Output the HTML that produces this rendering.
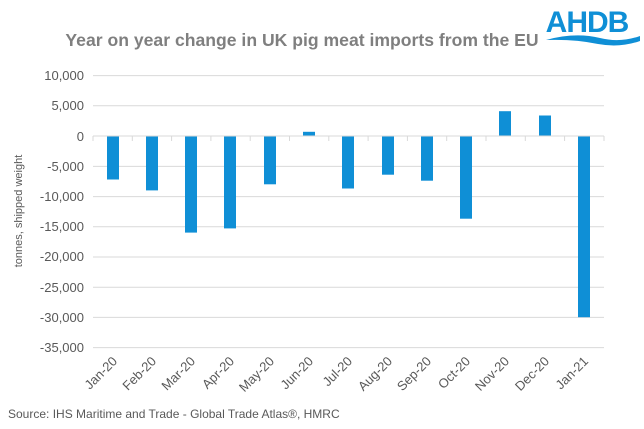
<!DOCTYPE html>
<html><head><style>
body{margin:0;background:#fff;}
svg{display:block;font-family:"Liberation Sans",Arial,sans-serif;}
</style></head><body>
<svg width="644" height="429" viewBox="0 0 644 429">
<text x="302" y="46" text-anchor="middle" font-size="17.6" font-weight="bold" fill="#7f7f7f">Year on year change in UK pig meat imports from the EU</text>
<text x="587" y="32" text-anchor="middle" font-size="30" font-weight="bold" fill="#0f8fd6" letter-spacing="-1">AHDB</text>
<path d="M546 40 Q575 32 600 38 Q620 43 640 36 L640 41 Q620 48 598 44 Q575 39 546 40Z" fill="#0f8fd6"/>
<g stroke="#d9d9d9" stroke-width="1">
<line x1="93" x2="604" y1="75.6" y2="75.6"/>
<line x1="93" x2="604" y1="105.8" y2="105.8"/>
<line x1="93" x2="604" y1="166.4" y2="166.4"/>
<line x1="93" x2="604" y1="196.6" y2="196.6"/>
<line x1="93" x2="604" y1="226.8" y2="226.8"/>
<line x1="93" x2="604" y1="257" y2="257"/>
<line x1="93" x2="604" y1="287.2" y2="287.2"/>
<line x1="93" x2="604" y1="317.4" y2="317.4"/>
<line x1="93" x2="604" y1="347.6" y2="347.6"/>
</g>
<g font-size="13" fill="#595959" text-anchor="end">
<text x="84" y="80">10,000</text><text x="84" y="110">5,000</text><text x="84" y="141">0</text>
<text x="84" y="171">-5,000</text><text x="84" y="201">-10,000</text><text x="84" y="231">-15,000</text>
<text x="84" y="261">-20,000</text><text x="84" y="292">-25,000</text><text x="84" y="322">-30,000</text><text x="84" y="352">-35,000</text>
</g>
<text transform="translate(22,211) rotate(-90)" text-anchor="middle" font-size="11" fill="#595959">tonnes, shipped weight</text>
<g fill="#0f8fd6">
<rect x="107" y="136" width="12" height="43.5"/>
<rect x="146" y="136" width="12" height="54.4"/>
<rect x="185" y="136" width="12" height="96.6"/>
<rect x="224" y="136" width="12" height="92.4"/>
<rect x="264" y="136" width="12" height="48.3"/>
<rect x="303" y="131.8" width="12" height="4.2"/>
<rect x="342" y="136" width="12" height="52.5"/>
<rect x="382" y="136" width="12" height="38.7"/>
<rect x="421" y="136" width="12" height="44.7"/>
<rect x="460" y="136" width="12" height="82.7"/>
<rect x="499" y="111.2" width="12" height="24.8"/>
<rect x="539" y="115.5" width="12" height="20.5"/>
<rect x="578" y="136" width="12" height="181.2"/>
</g>
<g stroke="#d9d9d9" stroke-width="1">
<line x1="93" x2="604" y1="136" y2="136"/>
<line x1="93" x2="93" y1="136" y2="141"/><line x1="132.3" x2="132.3" y1="136" y2="141"/><line x1="171.6" x2="171.6" y1="136" y2="141"/><line x1="210.9" x2="210.9" y1="136" y2="141"/><line x1="250.2" x2="250.2" y1="136" y2="141"/><line x1="289.5" x2="289.5" y1="136" y2="141"/><line x1="328.8" x2="328.8" y1="136" y2="141"/><line x1="368.1" x2="368.1" y1="136" y2="141"/><line x1="407.4" x2="407.4" y1="136" y2="141"/><line x1="446.7" x2="446.7" y1="136" y2="141"/><line x1="486" x2="486" y1="136" y2="141"/><line x1="525.3" x2="525.3" y1="136" y2="141"/><line x1="564.6" x2="564.6" y1="136" y2="141"/><line x1="604" x2="604" y1="136" y2="141"/>
</g>
<g font-size="13" fill="#595959" text-anchor="end">
<text transform="translate(118,362) rotate(-45)">Jan-20</text>
<text transform="translate(157,362) rotate(-45)">Feb-20</text>
<text transform="translate(196,362) rotate(-45)">Mar-20</text>
<text transform="translate(235,362) rotate(-45)">Apr-20</text>
<text transform="translate(275,362) rotate(-45)">May-20</text>
<text transform="translate(314,362) rotate(-45)">Jun-20</text>
<text transform="translate(353,362) rotate(-45)">Jul-20</text>
<text transform="translate(393,362) rotate(-45)">Aug-20</text>
<text transform="translate(432,362) rotate(-45)">Sep-20</text>
<text transform="translate(471,362) rotate(-45)">Oct-20</text>
<text transform="translate(510,362) rotate(-45)">Nov-20</text>
<text transform="translate(550,362) rotate(-45)">Dec-20</text>
<text transform="translate(589,362) rotate(-45)">Jan-21</text>
</g>
<text x="8" y="418" font-size="12" fill="#595959">Source: IHS Maritime and Trade - Global Trade Atlas®, HMRC</text>
</svg>
</body></html>
